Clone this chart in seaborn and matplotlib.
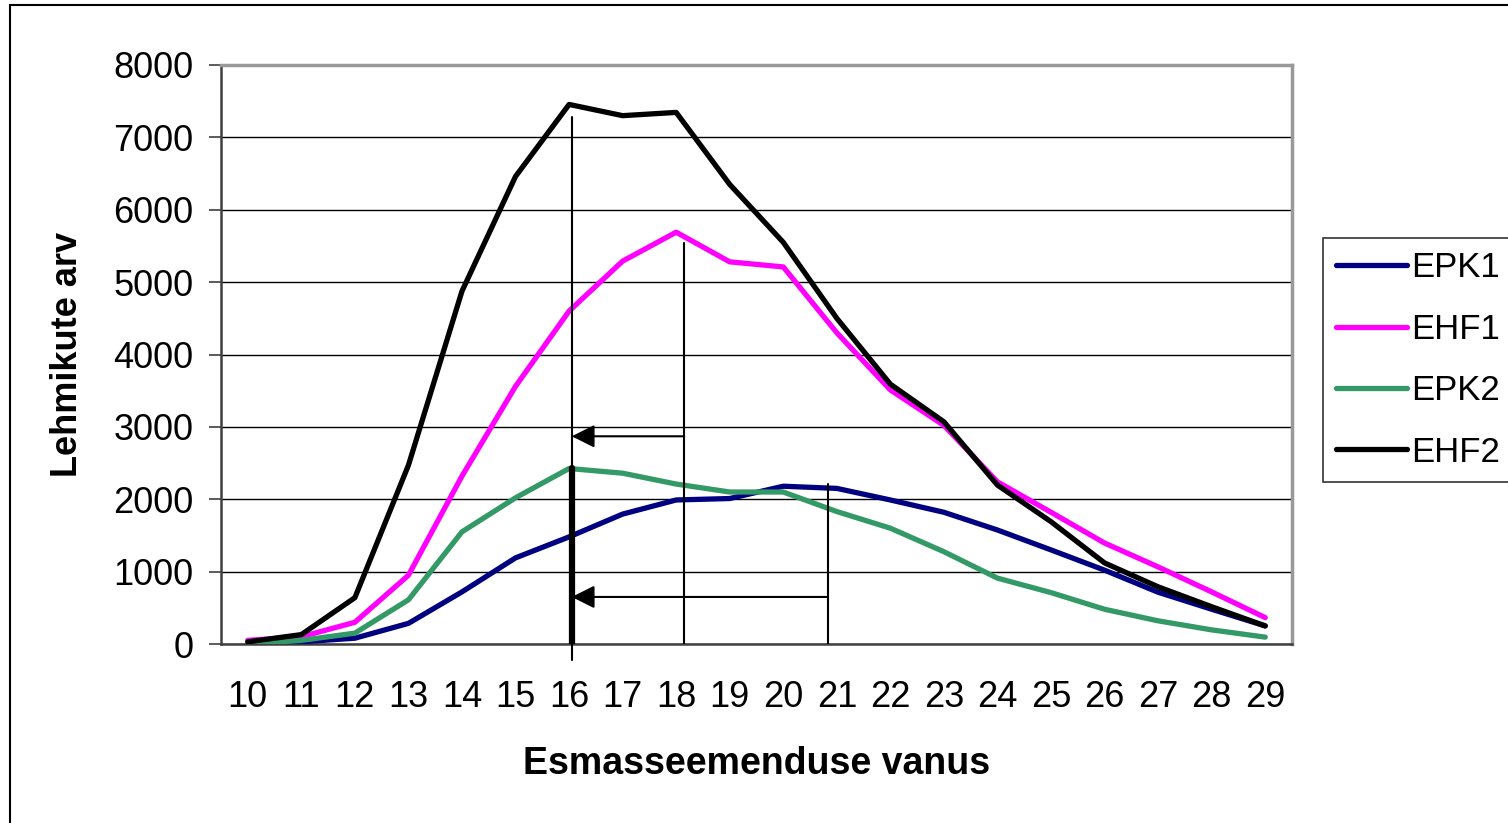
import numpy as np
import pandas as pd
import matplotlib
matplotlib.use("Agg")
import matplotlib.pyplot as plt
import seaborn as sns
from matplotlib.patches import Rectangle

# --- data ---
ages = list(range(10, 30))
epk1 = [0, 30, 80, 285, 720, 1190, 1480, 1795, 1990, 2010,
        2180, 2150, 1990, 1820, 1575, 1300, 1020, 715, 480, 250]
ehf1 = [50, 100, 300, 950, 2320, 3560, 4600, 5290, 5690, 5280,
        5210, 4300, 3510, 3020, 2240, 1820, 1395, 1065, 720, 365]
epk2 = [0, 50, 150, 610, 1550, 2020, 2425, 2360, 2210, 2100,
        2100, 1830, 1600, 1275, 910, 710, 480, 320, 195, 95]
ehf2 = [30, 130, 640, 2470, 4875, 6460, 7455, 7300, 7345, 6350,
        5550, 4500, 3590, 3070, 2195, 1690, 1120, 790, 515, 250]

series = ["EPK1", "EHF1", "EPK2", "EHF2"]
colors = {"EPK1": "#000080", "EHF1": "#FF00FF", "EPK2": "#339966", "EHF2": "#000000"}

df = pd.DataFrame({
    "pos": list(range(len(ages))) * 4,
    "value": epk1 + ehf1 + epk2 + ehf2,
    "series": np.repeat(series, len(ages)),
})

# annotation guides (category position, value)
guide_16 = (6.05, 7280)
guide_18 = (8.15, 5540)
guide_21 = (10.83, 2210)
thick_top = 2425
arrow_y = [2870, 650]

sns.set_style("white")
plt.rcParams["font.family"] = ["Liberation Sans", "DejaVu Sans"]
plt.rcParams["text.color"] = "black"
plt.rcParams["axes.labelcolor"] = "black"
plt.rcParams["xtick.color"] = "black"
plt.rcParams["ytick.color"] = "black"

fig = plt.figure(figsize=(15.08, 8.23), dpi=100)
ax = fig.add_axes([221 / 1508, 1 - 644 / 823, (1292 - 221) / 1508, (644 - 65) / 823])

sns.lineplot(data=df, x="pos", y="value", hue="series", palette=colors,
             hue_order=series, lw=3.8, ax=ax, legend=True, zorder=3)

ax.set_xlim(-0.5, len(ages) - 0.5)
ax.set_ylim(0, 8000)
ax.set_yticks(range(0, 8001, 1000))
ax.yaxis.grid(True, color="black", lw=1.0)
ax.set_axisbelow(True)

ax.set_xticks(range(len(ages)))
ax.set_xticklabels([str(a) for a in ages])
ax.set_xticks(np.arange(-0.5, len(ages)), minor=True)
ax.tick_params(axis="x", which="major", length=0, pad=26, labelsize=26)
ax.tick_params(axis="x", which="minor", length=8, width=1.2, color="#404040", direction="out")
ax.tick_params(axis="y", length=9, width=1.2, color="#404040", pad=11, labelsize=26, left=True)

for side in ["left", "bottom"]:
    ax.spines[side].set_color("#404040")
    ax.spines[side].set_linewidth(1.8)
for side in ["top", "right"]:
    ax.spines[side].set_visible(True)
    ax.spines[side].set_color("#999999")
    ax.spines[side].set_linewidth(2.5)

ax.set_xlabel("Esmasseemenduse vanus", fontsize=27, fontweight="bold", labelpad=22)
ax.set_ylabel("Lehmikute arv", fontsize=26, fontweight="bold", labelpad=20)

# guide lines and arrows
ax.plot([guide_16[0]] * 2, [guide_16[1], -220], color="black", lw=1.5, clip_on=False, zorder=4)
ax.plot([guide_16[0]] * 2, [0, thick_top], color="black", lw=4.5, zorder=4)
ax.plot([guide_18[0]] * 2, [0, guide_18[1]], color="black", lw=1.5, zorder=4)
ax.plot([guide_21[0]] * 2, [0, guide_21[1]], color="black", lw=1.5, zorder=4)
for x_from, yv in zip([guide_18[0], guide_21[0]], arrow_y):
    ax.annotate("", xy=(guide_16[0], yv), xytext=(x_from, yv),
                arrowprops=dict(arrowstyle="-|>,head_length=1.4,head_width=0.7",
                                mutation_scale=10, color="black", lw=1.5,
                                shrinkA=0, shrinkB=0), zorder=5)

leg = ax.legend(title=None, loc="upper left",
                bbox_to_anchor=(1323 / 1508, 1 - 238 / 823),
                bbox_transform=fig.transFigure, fontsize=25, frameon=True,
                fancybox=False, edgecolor="black", handlelength=2.05,
                handletextpad=0.12, labelspacing=0.82, borderpad=0.38,
                borderaxespad=0)
leg.get_frame().set_linewidth(1.2)
for line in leg.get_lines():
    line.set_linewidth(3.8)

fig.patches.append(Rectangle((10 / 1508, -0.1), 1.2, 1 - 5 / 823 + 0.1,
                             transform=fig.transFigure, fill=False,
                             ec="black", lw=1.5))

fig.savefig("out.png", dpi=100)
